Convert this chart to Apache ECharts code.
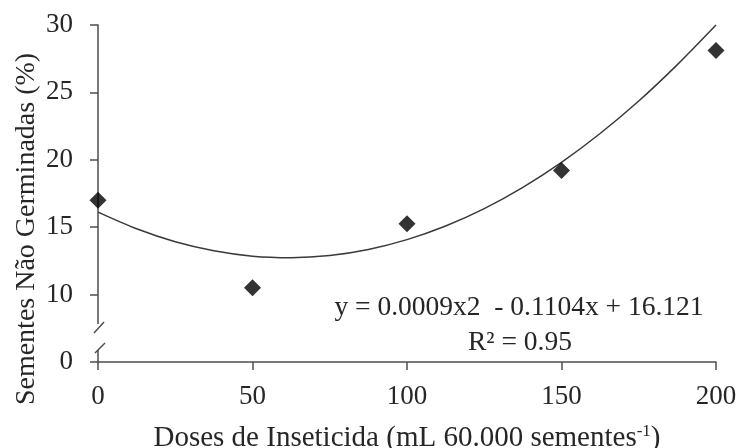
<!DOCTYPE html>
<html><head><meta charset="utf-8">
<script src="https://cdn.jsdelivr.net/npm/echarts@6/dist/echarts.min.js"></script>
<style>html,body{margin:0;padding:0;background:#fff}#c{width:739px;height:448px}</style>
</head><body><div id="c"></div>
<script>
// Data
const xDoses = [0, 50, 100, 150, 200];
const naoGerminadas = [17.0, 10.5, 15.25, 19.2, 28.1];
// Fitted trend curve
const trendX = [0, 12.5, 25, 37.5, 50, 62.5, 75, 87.5, 100, 112.5, 125, 137.5, 150, 162.5, 175, 187.5, 200];
const trendY = [16.12, 14.88, 13.92, 13.25, 12.85, 12.74, 12.90, 13.35, 14.08, 15.09, 16.38, 17.96, 19.81, 21.95, 24.36, 27.06, 30.0];
// Y axis tick labels (broken axis: the lowest position stands for 0)
const yTickValues = [5, 10, 15, 20, 25, 30];
const yTickLabels = ['0', '10', '15', '20', '25', '30'];
const equationText = 'y = 0.0009x2  - 0.1104x + 16.121';
const r2Text = 'R\u00B2 = 0.95';

const FONT = "'Liberation Serif', 'Times New Roman', serif";
const TXT = '#262626';
const AX = '#4d4d4d';

const chart = echarts.init(document.getElementById('c'), null, {renderer: 'canvas'});
chart.setOption({
  animation: false,
  backgroundColor: '#fff',
  grid: {left: 98, right: 23, top: 25, bottom: 86, containLabel: false, outerBoundsMode: 'none'},
  xAxis: {
    type: 'value', min: 0, max: 200, interval: 50,
    axisLine: {show: true, onZero: false, lineStyle: {color: AX, width: 1.5}},
    axisTick: {show: true, length: 8, lineStyle: {color: AX, width: 1.5}},
    axisLabel: {color: TXT, fontFamily: FONT, fontSize: 27, margin: 21},
    splitLine: {show: false},
    name: 'Doses de Inseticida (mL 60.000 sementes{sup|-1})',
    nameLocation: 'middle', nameGap: 61,
    nameTextStyle: {color: TXT, fontFamily: FONT, fontSize: 29,
      rich: {sup: {fontSize: 17, fontFamily: FONT, color: TXT, padding: [0, 0, 13, 0]}}}
  },
  yAxis: {
    type: 'value', min: 5, max: 30, interval: 5,
    axisLine: {show: true, onZero: false, lineStyle: {color: AX, width: 1.5}},
    axisTick: {show: true, length: 8, lineStyle: {color: AX, width: 1.5}},
    axisLabel: {color: TXT, fontFamily: FONT, fontSize: 27, margin: 25,
      formatter: v => { const i = yTickValues.indexOf(v); return i >= 0 ? yTickLabels[i] : ''; }},
    splitLine: {show: false}
  },
  series: [
    {type: 'line', data: trendX.map((x, i) => [x, trendY[i]]), smooth: 0.25,
     showSymbol: false, lineStyle: {color: '#3a3a3a', width: 1.5}, z: 2, silent: true},
    {type: 'scatter', data: xDoses.map((x, i) => [x, naoGerminadas[i]]),
     symbol: 'diamond', symbolSize: [17, 17], itemStyle: {color: '#000'}, z: 3}
  ]
});

// Axis break decoration + annotations
const p0 = chart.convertToPixel({gridIndex: 0}, [0, 5]);
const ax = p0[0], y0 = p0[1];
chart.setOption({
  graphic: [
    {type: 'rect', shape: {x: ax - 4, y: y0 - 38, width: 8, height: 26}, style: {fill: '#fff'}, z: 50},
    {type: 'line', shape: {x1: ax - 4, y1: y0 - 29, x2: ax + 6, y2: y0 - 40}, style: {stroke: AX, lineWidth: 1.5}, z: 51},
    {type: 'line', shape: {x1: ax - 3, y1: y0 - 9, x2: ax + 7, y2: y0 - 19}, style: {stroke: AX, lineWidth: 1.5}, z: 51},
    {type: 'text', x: 27, y: 229, rotation: Math.PI / 2,
     style: {text: 'Sementes N\u00E3o Germinadas (%)', fill: TXT, font: '28px ' + FONT,
       textAlign: 'center', textVerticalAlign: 'middle'}, z: 60},
    {type: 'text', x: 519, y: 308,
     style: {text: equationText, fill: TXT, font: '27.5px ' + FONT, textAlign: 'center', textVerticalAlign: 'middle'}, z: 60},
    {type: 'text', x: 520, y: 343,
     style: {text: r2Text, fill: TXT, font: '27.5px ' + FONT, textAlign: 'center', textVerticalAlign: 'middle'}, z: 60}
  ]
});
</script></body></html>
